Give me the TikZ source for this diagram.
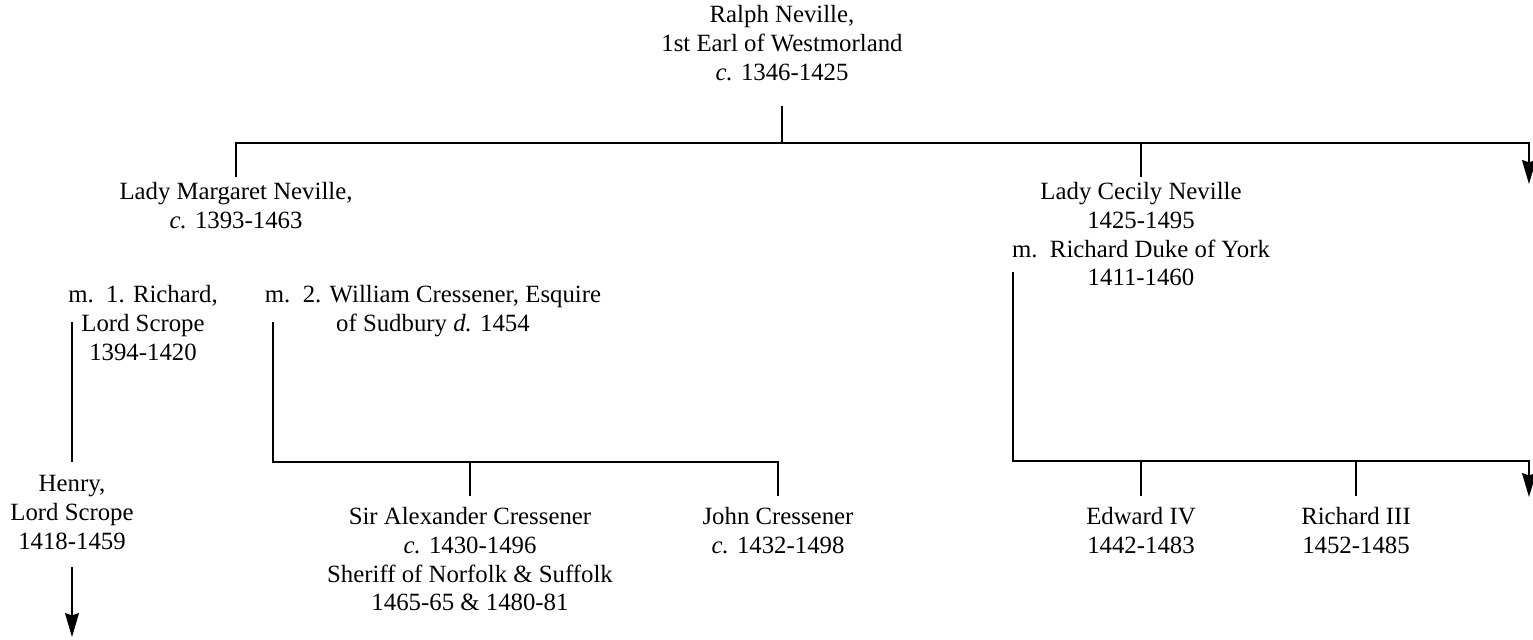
\documentclass[tikz,border=0pt]{standalone}
\usepackage{fontspec}
\setmainfont{Liberation Serif}
\usetikzlibrary{arrows.meta}
\begin{document}
\begin{tikzpicture}[x=0.5pt,y=-0.5pt,
  person/.style={anchor=north, align=center, inner xsep=0pt, inner ysep=2.5pt,
    font=\fontsize{12.4pt}{14.35pt}\selectfont,
    execute at begin node=\strut, execute at end node=\strut},
  kid/.style={person, inner ysep=5.5pt},
  conn/.style={line width=0.8pt},
  arr/.style={conn, -{Stealth[length=12pt,width=7pt,inset=1.2pt]}}]
\useasboundingbox (0,0) rectangle (1533,639);

% people
\node[person] (ralph)  at (782,0)   {Ralph Neville,\\1st Earl of Westmorland\\\textit{c.} 1346-1425};
\node[person] (marg)   at (236,177) {Lady Margaret Neville,\\\textit{c.} 1393-1463};
\node[person] (cecily) at (1141,177) {Lady Cecily Neville\\1425-1495\\m.\ \ Richard Duke of York\\1411-1460};
\node[person] (scrope) at (143,280) {m.\ \ 1. Richard,\\Lord Scrope\\1394-1420};
\node[person] (cress)  at (433,280) {m.\ \ 2. William Cressener, Esquire\\of Sudbury \textit{d.} 1454};
\node[person] (henry)  at (72,470)  {Henry,\\Lord Scrope\\1418-1459};
\node[kid] (alex)   at (470,496)  {Sir Alexander Cressener\\\textit{c.} 1430-1496\\Sheriff of Norfolk \& Suffolk\\1465-65 \& 1480-81};
\node[kid] (john)   at (778,496)  {John Cressener\\\textit{c.} 1432-1498};
\node[kid] (edward) at (1141,496) {Edward IV\\1442-1483};
\node[kid] (rich3)  at (1356,496) {Richard III\\1452-1485};

% junction points
\coordinate (j0)   at (782,143);
\coordinate (jC)   at (1141,143);
\coordinate (topR) at (1529,143);
\coordinate (arrR) at (1529,184);
\coordinate (s1)   at (72,322);
\coordinate (s2)   at (72,462);
\coordinate (h2)   at (72,637);
\coordinate (c1)   at (273,322);
\coordinate (cA)   at (470,462);
\coordinate (cJ)   at (778,462);
\coordinate (y1)   at (1013,272);
\coordinate (yE)   at (1141,461);
\coordinate (yR3)  at (1356,461);
\coordinate (yR)   at (1529,461);
\coordinate (yA)   at (1529,497);

% connectors
\draw[conn] (ralph.south) ++(0,12) -- (j0);
\draw[arr] (marg.north) |- (topR) -- (arrR);
\draw[conn] (jC) -- (cecily.north);
\draw[conn] (s1) -- (s2);
\draw[arr] (henry.south) ++(0,4) -- (h2);
\draw[conn] (c1) |- (cJ) -- (john.north);
\draw[conn] (cA) -- (alex.north);
\draw[arr] (y1) |- (yR) -- (yA);
\draw[conn] (yE) -- (edward.north);
\draw[conn] (yR3) -- (rich3.north);
\end{tikzpicture}
\end{document}
